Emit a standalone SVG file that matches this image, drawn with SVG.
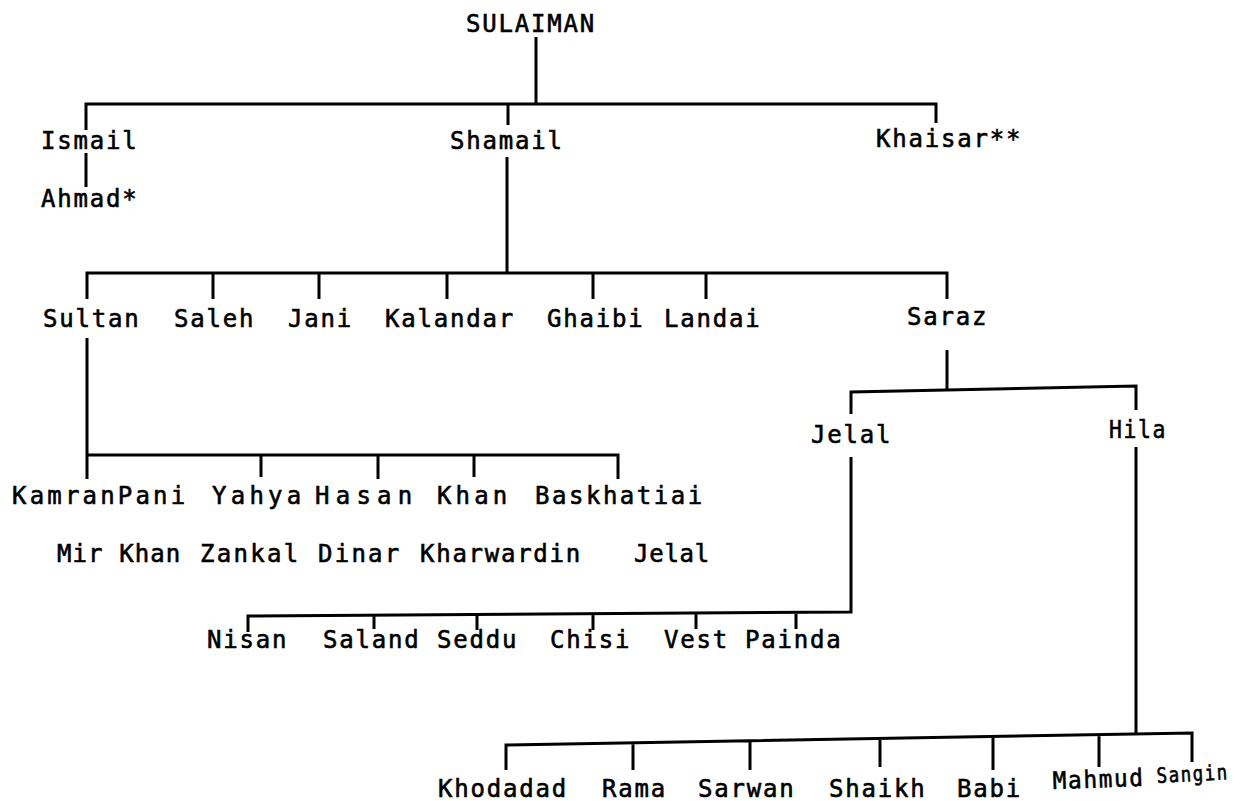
<svg xmlns="http://www.w3.org/2000/svg" width="1246" height="801" viewBox="0 0 1246 801">
<style>
text{font-family:"DejaVu Sans Mono","Liberation Mono",monospace;font-size:24px;letter-spacing:1.8px;fill:#000;stroke:#000;stroke-width:0.6px}
.c{fill:none;stroke:#000;stroke-width:3;stroke-linejoin:miter;stroke-linecap:butt}
</style>
<rect width="1246" height="801" fill="#fff"/>
<g id="connectors">
<path class="c" d="M536,37 V104"/>
<path class="c" d="M86,130 V104 H936 V123 M508,104 V125"/>
<path class="c" d="M86,153 V187"/>
<path class="c" d="M507,157 V273"/>
<path class="c" d="M87,299 V273 H947 V299 M213,273 V299 M319,273 V299 M447,273 V299 M593,273 V299 M706,273 V299"/>
<path class="c" d="M87,338 V479 M87,455 H618 V479 M261,455 V477 M378,455 V479 M474,455 V477"/>
<path class="c" d="M947,350 V389"/>
<path class="c" d="M851,414 V392 L1136,386 V410"/>
<path class="c" d="M851,457 V612 L248,616 V632 M374,615 V629 M477,614 V630 M593,614 V630 M696,613 V629 M796,613 V629"/>
<path class="c" d="M1136,447 V735"/>
<path class="c" d="M506,770 V745 L1192,733 V762 M633,743 V770 M750,741 V770 M880,739 V767 M993,737 V770 M1099,736 V767"/>
</g>
<g id="n-sulaiman"><text x="466" y="32">SULAIMAN</text></g>
<g id="n-ismail"><text x="41" y="149">Ismail</text></g>
<g id="n-shamail"><text x="450" y="149">Shamail</text></g>
<g id="n-khaisar"><text x="876" y="147">Khaisar**</text></g>
<g id="n-ahmad"><text x="41" y="207">Ahmad*</text></g>
<g id="n-sultan"><text x="43" y="327">Sultan</text></g>
<g id="n-saleh"><text x="174" y="327">Saleh</text></g>
<g id="n-jani"><text x="288" y="327">Jani</text></g>
<g id="n-kalandar"><text x="385" y="327">Kalandar</text></g>
<g id="n-ghaibi"><text x="547" y="327">Ghaibi</text></g>
<g id="n-landai"><text x="664" y="327">Landai</text></g>
<g id="n-saraz"><text x="907" y="325">Saraz</text></g>
<g id="n-jelal"><text x="811" y="443">Jelal</text></g>
<g id="n-hila"><text x="1109" y="438" textLength="58" lengthAdjust="spacingAndGlyphs">Hila</text></g>
<g id="n-kamranpani"><text x="12" y="504" textLength="175" lengthAdjust="spacing">KamranPani</text></g>
<g id="n-yahya"><text x="212" y="504" textLength="91" lengthAdjust="spacing">Yahya</text></g>
<g id="n-hasan"><text x="315" y="504" textLength="99" lengthAdjust="spacing">Hasan</text></g>
<g id="n-khan"><text x="437" y="504" textLength="72" lengthAdjust="spacing">Khan</text></g>
<g id="n-baskhatiai"><text x="535" y="504" textLength="169" lengthAdjust="spacing">Baskhatiai</text></g>
<g id="n-mirkhan"><text x="57" y="562" textLength="125" lengthAdjust="spacing">Mir Khan</text></g>
<g id="n-zankal"><text x="200" y="562" textLength="100" lengthAdjust="spacing">Zankal</text></g>
<g id="n-dinar"><text x="318" y="562" textLength="83" lengthAdjust="spacing">Dinar</text></g>
<g id="n-kharwardin"><text x="420" y="562" textLength="162" lengthAdjust="spacing">Kharwardin</text></g>
<g id="n-jelal2"><text x="634" y="562" textLength="77" lengthAdjust="spacing">Jelal</text></g>
<g id="n-nisan"><text x="207" y="648">Nisan</text></g>
<g id="n-saland"><text x="323" y="648">Saland</text></g>
<g id="n-seddu"><text x="437" y="648">Seddu</text></g>
<g id="n-chisi"><text x="550" y="648">Chisi</text></g>
<g id="n-vest"><text x="664" y="648">Vest</text></g>
<g id="n-painda"><text x="745" y="648">Painda</text></g>
<g id="n-khodadad"><text x="438" y="797">Khodadad</text></g>
<g id="n-rama"><text x="602" y="797">Rama</text></g>
<g id="n-sarwan"><text x="698" y="797">Sarwan</text></g>
<g id="n-shaikh"><text x="829" y="797">Shaikh</text></g>
<g id="n-babi"><text x="957" y="797">Babi</text></g>
<g id="n-mahmud"><text x="1053" y="789" textLength="92" lengthAdjust="spacingAndGlyphs" transform="rotate(-2 1053 789)">Mahmud</text></g>
<g id="n-sangin"><text x="1157" y="783" textLength="72" lengthAdjust="spacingAndGlyphs" style="font-size:21px" transform="rotate(-3 1157 783)">Sangin</text></g>
</svg>
